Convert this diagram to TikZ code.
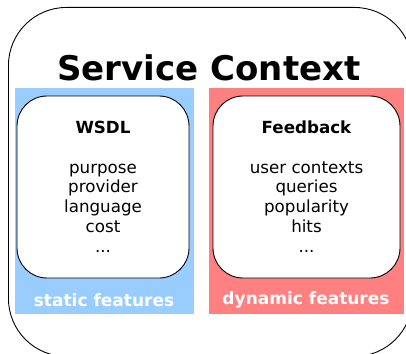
\documentclass[tikz,border=0pt]{standalone}
\usepackage{fontspec}
\setmainfont{DejaVu Sans}
\usetikzlibrary{positioning}

\definecolor{staticblue}{HTML}{99CCFF}
\definecolor{dynred}{HTML}{FF8080}

\begin{document}
\begin{tikzpicture}[x=1pt,y=-1pt,
  featbox/.style={anchor=north west,inner sep=0pt,outer sep=0pt},
  sourcebox/.style={anchor=north west,draw,fill=white,line width=0.9pt,
    rounded corners=30pt,inner sep=0pt,outer sep=0pt},
  boxtitle/.style={anchor=base,font=\fontsize{16.7}{19.7}\selectfont\bfseries},
  itemlist/.style={anchor=base,align=center,font=\fontsize{16.7}{19.7}\selectfont},
  featlabel/.style={anchor=base,text=white,font=\fontsize{17}{20}\selectfont\bfseries}]
\useasboundingbox (0,0) rectangle (406,353);
\clip (0,0) rectangle (406,353);
% outer frame
\node[anchor=north west,draw,line width=0.9pt,rounded corners=58pt,
  minimum width=404pt,minimum height=349pt,inner sep=0pt] (context) at (8,7) {};
\node[anchor=base,font=\fontsize{34}{40}\selectfont\bfseries] (title) at (209,80) {Service Context};
% static / dynamic parts
\node[featbox,fill=staticblue,minimum width=179pt,minimum height=226pt] (static) at (15,88) {};
\node[featbox,fill=dynred,minimum width=195pt,minimum height=226pt] (dynamic) at (209,88) {};
\node[sourcebox,minimum width=172pt,minimum height=182pt] (wsdl) at (17,96) {};
\node[sourcebox,minimum width=187pt,minimum height=182pt] (feedback) at (213,96) {};
% texts
\node[boxtitle] (wsdltitle) at (103,133) {WSDL};
\node[itemlist] (wsdlitems) at (103,252) {purpose\\provider\\language\\cost\\...};
\node[boxtitle] (fbtitle) at (306.5,133) {Feedback};
\node[itemlist] (fbitems) at (306.5,252) {user contexts\\queries\\popularity\\hits\\...};
\node[featlabel] (staticlabel) at (104,306) {static features};
\node[featlabel] (dynamiclabel) at (306,304) {dynamic features};
\end{tikzpicture}
\end{document}
